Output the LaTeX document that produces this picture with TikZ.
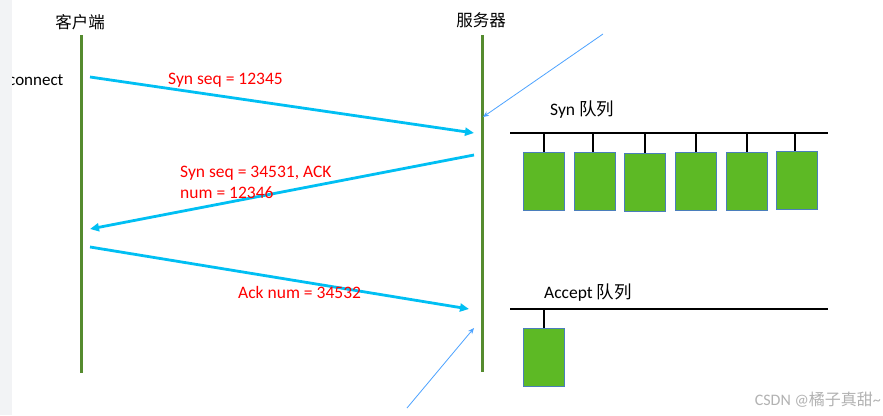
\documentclass[tikz,border=0pt]{standalone}
\usepackage{fontspec}
\setmainfont{Carlito}
\newfontfamily\cjk{Noto Sans CJK SC}
\usetikzlibrary{arrows.meta}
\definecolor{lifegreen}{HTML}{558B2F}
\definecolor{msgcyan}{HTML}{00BFF3}
\definecolor{boxgreen}{HTML}{5DB925}
\definecolor{boxedge}{HTML}{4A7EBB}
\definecolor{thinblue}{HTML}{4DA3FF}
\definecolor{msgred}{HTML}{FF0000}
\definecolor{stripgray}{HTML}{F2F3F5}
\begin{document}
\begin{tikzpicture}[x=1pt,y=-1pt,
  lifeline/.style={draw=lifegreen,line width=3pt},
  msg/.style={draw=msgcyan,line width=2.8pt,-{Triangle[length=9pt,width=8pt]}},
  pointer/.style={draw=thinblue,line width=0.8pt,-{Stealth[length=6pt,width=5pt]}},
  msglabel/.style={text=msgred,font=\fontsize{17.5}{20}\selectfont,inner sep=0pt},
  title/.style={font=\cjk\fontsize{16.5}{19}\selectfont,inner sep=0pt},
  qlabel/.style={font=\fontsize{17.5}{20}\selectfont,inner sep=0pt,anchor=west},
  qbar/.style={draw=black,line width=2pt},
  stem/.style={draw=black,line width=2pt},
  qbox/.style={draw=boxedge,fill=boxgreen,line width=0.8pt,minimum width=41pt,minimum height=58pt,inner sep=0pt}]
\useasboundingbox (0,0) rectangle (883,415);
\fill[white] (0,0) rectangle (883,415);
% titles
\node[title] (client) at (80,22) {客户端};
\node[title] (server) at (481,20) {服务器};
\node[font=\fontsize{17}{20}\selectfont,inner sep=0pt,anchor=west] (connect) at (8,80) {connect};
% lifelines
\coordinate (ctop) at (81,35); \coordinate (cbot) at (81,373);
\coordinate (stop) at (482,35); \coordinate (sbot) at (482,372);
\draw[lifeline] (ctop) -- (cbot);
\draw[lifeline] (stop) -- (sbot);
% messages
\coordinate (m1a) at (90,77); \coordinate (m1b) at (474,133);
\coordinate (m2a) at (474,155); \coordinate (m2b) at (90,229);
\coordinate (m3a) at (90,247); \coordinate (m3b) at (469,309);
\draw[msg] (m1a) -- (m1b);
\draw[msg] (m2a) -- (m2b);
\draw[msg] (m3a) -- (m3b);
\node[msglabel,anchor=west] (l1) at (168,80) {Syn seq = 12345};
\node[msglabel,anchor=north west,align=left,font=\fontsize{17.5}{20.5}\selectfont] (l2) at (180,166) {Syn seq = 34531, ACK\\num = 12346};
\node[msglabel,anchor=west] (l3) at (238,292) {Ack num = 34532};
% thin pointers
\coordinate (p1a) at (603,34); \coordinate (p1b) at (483,117);
\coordinate (p2a) at (407,408); \coordinate (p2b) at (474,328);
\draw[pointer] (p1a) -- (p1b);
\draw[pointer] (p2a) -- (p2b);
% syn queue
\node[qlabel] (synlabel) at (550,110) {Syn {\cjk 队列}};
\coordinate (sq1) at (510,133); \coordinate (sq2) at (828,133);
\draw[qbar] (sq1) -- (sq2);
\foreach \i/\x/\sx/\ty in {1/543.5/544/152,2/594.5/593/152,3/645/645/153,4/695.5/696/152,5/746.5/747/152,6/797/795/151}{
  \node[qbox,anchor=north] (b\i) at (\x,\ty) {};
  \draw[stem] (\sx,133) -- (\sx,\ty);
}
% accept queue
\node[qlabel] (acclabel) at (544,293) {Accept {\cjk 队列}};
\coordinate (aq1) at (510,309); \coordinate (aq2) at (828,309);
\draw[qbar] (aq1) -- (aq2);
\node[qbox,anchor=north] (ab1) at (543.5,328) {};
\draw[stem] (ab1.north) -- (543.5,309);
% left strip
\fill[stripgray] (0,0) rectangle (12,415);
% watermark
\node[inner sep=0pt,anchor=east,text=black!30,font=\fontsize{16}{18}\selectfont] (wm) at (881,400) {CSDN @{\cjk 橘子真甜}\textasciitilde};
\end{tikzpicture}
\end{document}
